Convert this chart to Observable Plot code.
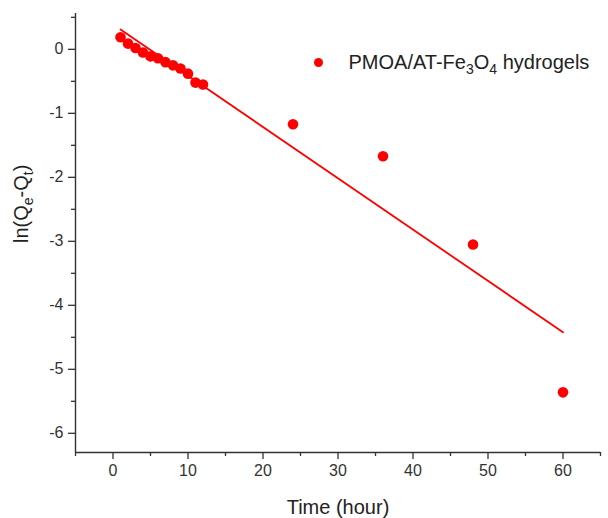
<!DOCTYPE html>
<html><head><meta charset="utf-8">
<script src="https://cdn.jsdelivr.net/npm/d3@7"></script>
<script src="https://cdn.jsdelivr.net/npm/@observablehq/plot@0.6"></script>
<style>
body{margin:0;background:#fff;}
#chart svg{font-family:Arial,"Liberation Sans",sans-serif;}
</style>
</head><body><div id="chart"></div>
<script>
// Data
const time = [1, 2, 3, 4, 5, 6, 7, 8, 9, 10, 11, 12, 24, 36, 48, 60];
const lnQ = [0.19, 0.09, 0.02, -0.05, -0.11, -0.14, -0.20, -0.25, -0.30, -0.38, -0.52, -0.55, -1.17, -1.67, -3.05, -5.36];
const fitTime = [1, 60];
const fitLnQ = [0.31, -4.42];
const xMajor = [0, 10, 20, 30, 40, 50, 60];
const xMinor = [-5, 5, 15, 25, 35, 45, 55, 65];
const yMajor = [-6, -5, -4, -3, -2, -1, 0];
const yMinor = [-5.5, -4.5, -3.5, -2.5, -1.5, -0.5, 0.5];
const xDomain = [-5, 65];
const yDomain = [-6.3, 0.56];
const seriesName = "PMOA/AT-Fe3O4 hydrogels";
const xLabel = "Time (hour)";
const yLabel = "ln(Qe-Qt)";

const points = time.map((t, i) => ({t, v: lnQ[i]}));
const fit = fitTime.map((t, i) => ({t, v: fitLnQ[i]}));
const axisColor = "#333";
const red = "#ff0000";

const plot = Plot.plot({
  width: 608,
  height: 518,
  marginLeft: 75,
  marginRight: 8,
  marginTop: 13,
  marginBottom: 66,
  style: {fontFamily: "Arial, 'Liberation Sans', sans-serif", background: "#fff", color: "#222"},
  x: {domain: xDomain},
  y: {domain: yDomain},
  marks: [
    Plot.axisX({ticks: xMinor, tickSize: 4, tickFormat: () => "", label: null, color: axisColor, strokeWidth: 1.3}),
    Plot.axisX({ticks: xMajor, tickSize: 7, tickPadding: 5, fontSize: 16, tickFormat: d => String(d), label: null, color: axisColor, strokeWidth: 1.3}),
    Plot.axisY({ticks: yMinor, tickSize: 4, tickFormat: () => "", label: null, color: axisColor, strokeWidth: 1.3}),
    Plot.axisY({ticks: yMajor, tickSize: 7, tickPadding: 5, fontSize: 16, tickFormat: d => String(d), label: null, color: axisColor, strokeWidth: 1.3}),
    Plot.ruleY([yDomain[0]], {stroke: axisColor, strokeWidth: 1.4}),
    Plot.ruleX([xDomain[0]], {stroke: axisColor, strokeWidth: 1.4}),
    Plot.line(fit, {x: "t", y: "v", stroke: red, strokeWidth: 1.8}),
    Plot.dot(points, {x: "t", y: "v", r: 5.3, fill: red, stroke: "none"}),
    Plot.dot([seriesName], {frameAnchor: "top-left", dx: 243, dy: 49, r: 4.5, fill: red, stroke: "none"}),
    Plot.text([seriesName], {frameAnchor: "top-left", dx: 273, dy: 49, textAnchor: "start", lineAnchor: "middle", fontSize: 20, fill: "#222"}),
    Plot.text([xLabel], {frameAnchor: "bottom", dy: 55, lineAnchor: "middle", fontSize: 20, fill: "#222"}),
    Plot.text([yLabel], {frameAnchor: "left", dx: -54, dy: 10, rotate: -90, lineAnchor: "middle", fontSize: 20, fill: "#222"})
  ]
});

document.getElementById("chart").appendChild(plot);

function subscriptify(el, parts) {
  const sel = d3.select(el);
  sel.text(null);
  let shifted = false;
  parts.forEach(([s, sub]) => {
    const ts = sel.append("tspan").text(s);
    if (sub && !shifted) { ts.attr("dy", 5).attr("font-size", 14); shifted = true; }
    else if (sub) { ts.attr("font-size", 14); }
    else if (shifted) { ts.attr("dy", -5); shifted = false; }
  });
}
d3.select(plot).selectAll("text").each(function() {
  const t = this.textContent;
  if (t === seriesName) {
    subscriptify(this, [["PMOA/AT-Fe"], ["3", true], ["O"], ["4", true], [" hydrogels"]]);
  } else if (t === yLabel) {
    subscriptify(this, [["ln(Q"], ["e", true], ["-Q"], ["t", true], [")"]]);
  }
});
</script>
</body></html>
